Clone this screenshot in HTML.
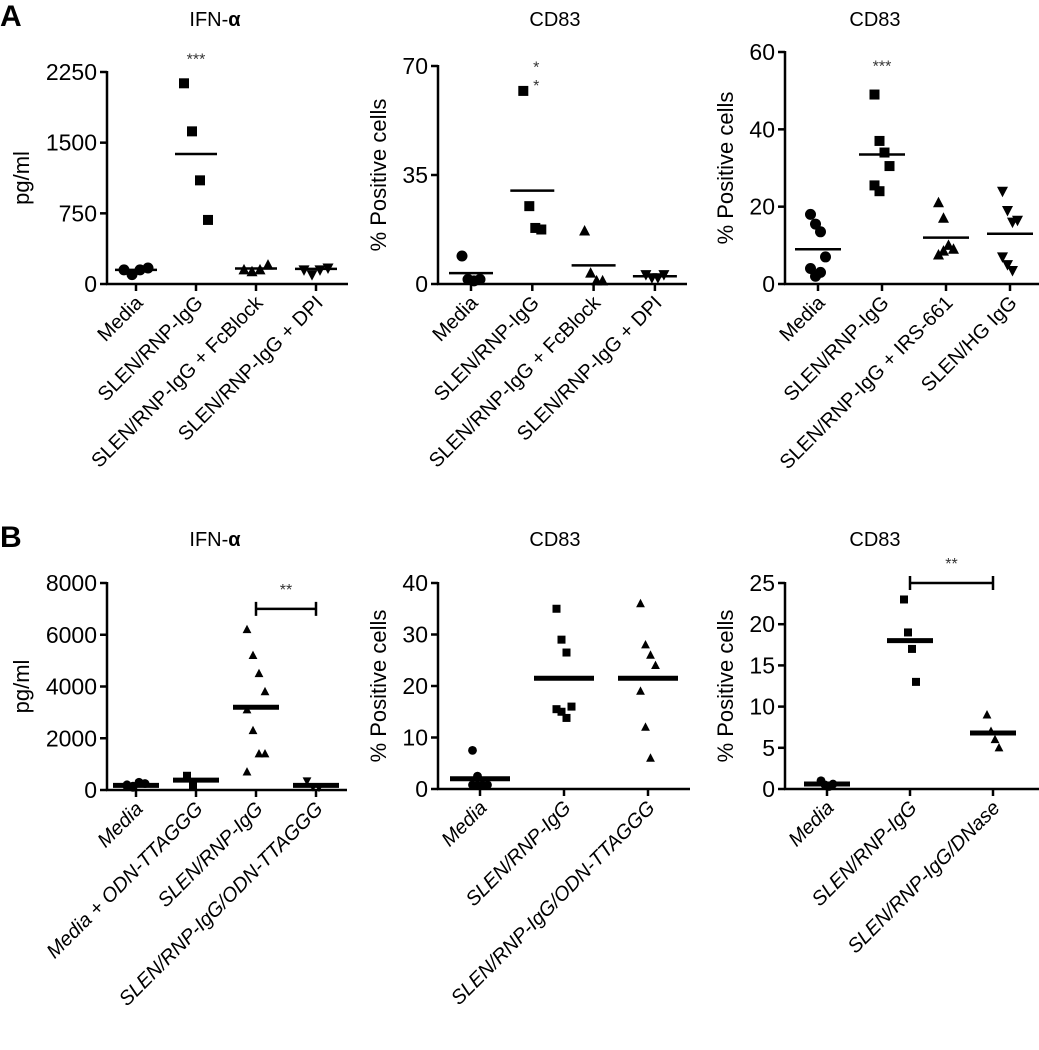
<!DOCTYPE html>
<html><head><meta charset="utf-8"><style>
html,body{margin:0;padding:0;background:#fff;}
svg{display:block;font-family:"Liberation Sans",sans-serif;}
</style></head><body>
<svg id="fig" width="1039" height="1050" viewBox="0 0 1039 1050">
<text x="0" y="26" font-size="30" font-weight="bold">A</text>
<text x="0" y="547" font-size="30" font-weight="bold">B</text>
</svg>
<script>
// ---- Panel A1 data (IFN-alpha) ----
const a1Cats = ["Media","SLEN/RNP-IgG","SLEN/RNP-IgG + FcBlock","SLEN/RNP-IgG + DPI"];
const a1Vals = [[150,100,150,170],[2130,1620,1100,680],[150,130,150,200],[150,100,150,170]];
const a1Means = [150,1380,165,160];
const a1Ticks = [0,750,1500,2250];
// ---- Panel A2 data (CD83) ----
const a2Cats = ["Media","SLEN/RNP-IgG","SLEN/RNP-IgG + FcBlock","SLEN/RNP-IgG + DPI"];
const a2Vals = [[9,1.5,1,1.5],[62,25,18,17.5],[17,3.5,1,1],[3,2,2,3]];
const a2Means = [3.5,30,6,2.5];
const a2Ticks = [0,35,70];
// ---- Panel A3 data (CD83) ----
const a3Cats = ["Media","SLEN/RNP-IgG","SLEN/RNP-IgG + IRS-661","SLEN/HG IgG"];
const a3Vals = [[18,15.5,13.5,7,4,2,3],[49,37,34,30.5,25.5,24],[21,17,10,9,7.5,8.5],[24,19,16,16.5,7,5,3.5]];
const a3Means = [9,33.5,12,13];
const a3Ticks = [0,20,40,60];
// ---- Panel B1 data (IFN-alpha) ----
const b1Cats = ["Media","Media + ODN-TTAGGG","SLEN/RNP-IgG","SLEN/RNP-IgG/ODN-TTAGGG"];
const b1Vals = [[200,150,300,250,150,100],[550,150],[6200,5200,4500,3800,3100,2300,1400,1400,700],[350,120,100]];
const b1Means = [180,380,3200,180];
const b1Ticks = [0,2000,4000,6000,8000];
// ---- Panel B2 data (CD83) ----
const b2Cats = ["Media","SLEN/RNP-IgG","SLEN/RNP-IgG/ODN-TTAGGG"];
const b2Vals = [[7.5,2.5,0.8,0.8,0.8,0.8,0.8],[35,29,26.5,16,15.5,15,13.8],[36,28,26,24,19,12,6]];
const b2Means = [2,21.5,21.5];
const b2Ticks = [0,10,20,30,40];
// ---- Panel B3 data (CD83) ----
const b3Cats = ["Media","SLEN/RNP-IgG","SLEN/RNP-IgG/DNase"];
const b3Vals = [[1,0.5,0.3,0.6],[23,19,17,13],[9,7,6,5]];
const b3Means = [0.6,18,6.8];
const b3Ticks = [0,5,10,15,20,25];

const NS="http://www.w3.org/2000/svg";
const svg=document.getElementById('fig');
function mk(tag,attrs,parent){const e=document.createElementNS(NS,tag);for(const k in attrs)e.setAttribute(k,attrs[k]);(parent||svg).appendChild(e);return e;}

function marker(g,shape,x,y,s){
  let e;
  if(shape==='circle'){e=mk('circle',{cx:x,cy:y,r:s*0.55,fill:'#000'},g);}
  else if(shape==='square'){e=mk('rect',{x:x-s/2,y:y-s/2,width:s,height:s,fill:'#000'},g);}
  else if(shape==='tri'){e=mk('polygon',{points:`${x},${y-s*0.6} ${x-s*0.55},${y+s*0.45} ${x+s*0.55},${y+s*0.45}`,fill:'#000'},g);}
  else {e=mk('polygon',{points:`${x},${y+s*0.6} ${x-s*0.55},${y-s*0.45} ${x+s*0.55},${y-s*0.45}`,fill:'#000'},g);}
  
  
}

function panel(o){
  const g=mk('g',{});
  
  
  const ymax=o.ticks[o.ticks.length-1];
  const yS=v=>o.y0-(v/ymax)*(o.y0-o.yTop);
  const xS=i=>o.cx0+i*o.dx;
  const t=mk('text',{x:o.titleX,y:o.titleY,'font-size':20,'text-anchor':'middle'},g);
  t.innerHTML=o.title;
  
  
  const yt=mk('text',{x:0,y:0,'font-size':22,'text-anchor':'middle',transform:`translate(${o.ax-o.ytOff},${(o.y0+o.yTop)/2}) rotate(-90)`},g);
  yt.textContent=o.ytitle;
  
  
  const ya=mk('line',{x1:o.ax,y1:o.yTop-1,x2:o.ax,y2:o.y0,stroke:'#000','stroke-width':2.5},g);
  
  
  const xa=mk('line',{x1:o.ax-1,y1:o.y0,x2:o.xEnd,y2:o.y0,stroke:'#000','stroke-width':2.5},g);
  
  
  o.ticks.forEach(v=>{
    mk('line',{x1:o.ax-7,y1:yS(v),x2:o.ax,y2:yS(v),stroke:'#000','stroke-width':2.5},g);
    const tl=mk('text',{x:o.ax-10,y:yS(v)+8,'font-size':23,'text-anchor':'end'},g);
    tl.textContent=v;
    
    
  });
  o.cats.forEach((c,i)=>{
    const x=xS(i);
    mk('line',{x1:x,y1:o.y0,x2:x,y2:o.y0+7,stroke:'#000','stroke-width':2.5},g);
    const lx=x+8,ly=o.y0+20;
    const cl=mk('text',{x:lx,y:ly,'font-size':20,'text-anchor':'end','font-style':o.italic?'italic':'normal',transform:`rotate(-45 ${lx} ${ly})`},g);
    cl.textContent=c;
    
    
    const vals=o.vals[i];
    const n=vals.length;
    vals.forEach((v,j)=>{
      const off=(n>1)?(j%4-1.5)*o.jit:0;
      marker(g,o.shapes[i],x+off,yS(v),o.ms);
    });
    const ml=mk('line',{x1:x-o.mw,y1:yS(o.means[i]),x2:x+o.mw,y2:yS(o.means[i]),stroke:'#000','stroke-width':o.mlw},g);
    
    
  });
  if(o.bracket){
    const [i1,i2,v]=o.bracket;
    const by=yS(v);
    const b=mk('path',{d:`M${xS(i1)},${by-7}V${by+7}M${xS(i1)},${by}H${xS(i2)}M${xS(i2)},${by-7}V${by+7}`,stroke:'#000','stroke-width':2.5,fill:'none'},g);
    
    
    const s=mk('text',{x:(xS(i1)+xS(i2))/2,y:by-14,'font-size':16,'text-anchor':'middle',fill:'#333'},g);
    s.textContent='**';
    
    
  }
  if(o.stars){
    const [i,v,txt]=o.stars;
    const s=mk('text',{x:xS(i),y:yS(v),'font-size':16,'text-anchor':'middle',fill:'#333'},g);
    s.textContent=txt;
    
    
  }
  return {xS,yS,g};
}
const alpha='IFN-<tspan font-weight="bold">α</tspan>';
panel({name:'panel-a1-ifn',title:alpha,titleX:215,titleY:26,ytitle:'pg/ml',ytOff:78,ax:107,y0:284,yTop:72,xEnd:348,cx0:136,dx:60,
  cats:a1Cats,vals:a1Vals,means:a1Means,ticks:a1Ticks,shapes:['circle','square','tri','down'],ms:10,jit:8,mw:21,mlw:2.5,italic:false,stars:[1,2330,'***']});
const p2=panel({name:'panel-a2-cd83',title:'CD83',titleX:555,titleY:26,ytitle:'% Positive cells',ytOff:52,ax:438,y0:284,yTop:66,xEnd:687,cx0:471,dx:61.3,
  cats:a2Cats,vals:a2Vals,means:a2Means,ticks:a2Ticks,shapes:['circle','square','tri','down'],ms:10,jit:6,mw:22,mlw:2.5,italic:false});
[[1,70.5],[1,64.5]].forEach(([i,v])=>{const s=mk('text',{x:p2.xS(i)+4,y:p2.yS(v)+8,'font-size':16,'text-anchor':'middle',fill:'#333'},p2.g);s.textContent='*';});
panel({name:'panel-a3-cd83',title:'CD83',titleX:875,titleY:26,ytitle:'% Positive cells',ytOff:52,ax:785,y0:284,yTop:52,xEnd:1039,cx0:818,dx:64,
  cats:a3Cats,vals:a3Vals,means:a3Means,ticks:a3Ticks,shapes:['circle','square','tri','down'],ms:10,jit:5,mw:23,mlw:2.5,italic:false,stars:[1,55,'***']});
panel({name:'panel-b1-ifn',title:alpha,titleX:215,titleY:546,ytitle:'pg/ml',ytOff:78,ax:107,y0:790,yTop:583,xEnd:347,cx0:136,dx:60,
  cats:b1Cats,vals:b1Vals,means:b1Means,ticks:b1Ticks,shapes:['circle','square','tri','down'],ms:8,jit:6,mw:23,mlw:5,italic:true,bracket:[2,3,7000]});
panel({name:'panel-b2-cd83',title:'CD83',titleX:555,titleY:546,ytitle:'% Positive cells',ytOff:52,ax:438,y0:789,yTop:583,xEnd:690,cx0:480,dx:84,
  cats:b2Cats,vals:b2Vals,means:b2Means,ticks:b2Ticks,shapes:['circle','square','tri'],ms:8,jit:5,mw:30,mlw:5,italic:true});
panel({name:'panel-b3-cd83',title:'CD83',titleX:875,titleY:546,ytitle:'% Positive cells',ytOff:52,ax:785,y0:789,yTop:583,xEnd:1039,cx0:827,dx:83,
  cats:b3Cats,vals:b3Vals,means:b3Means,ticks:b3Ticks,shapes:['circle','square','tri'],ms:8,jit:4,mw:23,mlw:5,italic:true,bracket:[1,2,25]});
</script>
</body></html>
